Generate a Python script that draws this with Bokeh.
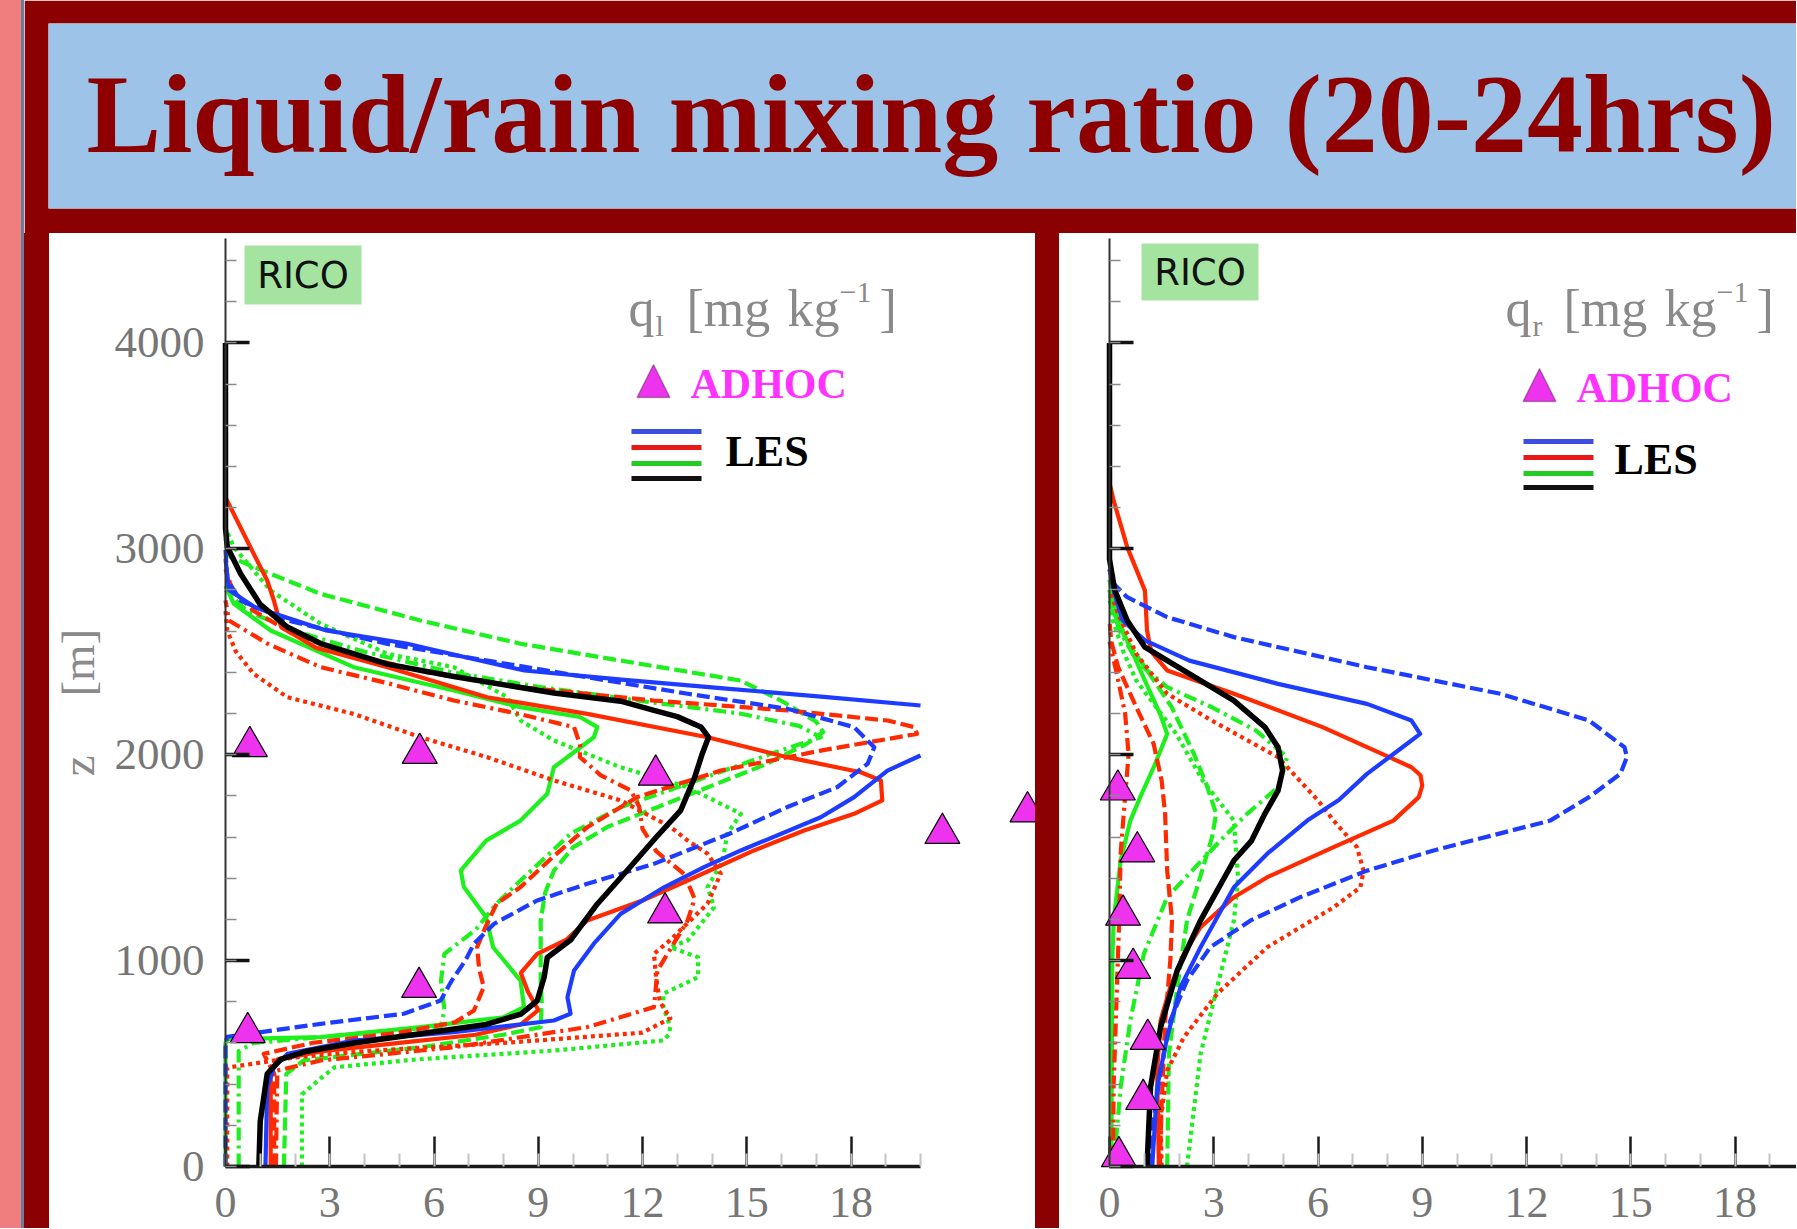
import math
from bokeh.plotting import figure
from bokeh.layouts import row, column
from bokeh.models import (Range1d, SingleIntervalTicker, Label, BoxAnnotation,
                          PolyAnnotation, CustomJSTickFormatter, Spacer)
from bokeh.embed import file_html
from bokeh.resources import INLINE

NaN = float("nan")

# ---------------- data ----------------
# Left panel: liquid water mixing ratio q_l [mg/kg] against height z [m]
ql_black_z = [0, 220, 450, 520, 560, 600, 645, 690, 740, 805, 920, 1015, 1100, 1275, 1440, 1600, 1730, 1890, 2005, 2085, 2135, 2185, 2215, 2260, 2300, 2380, 2440, 2540, 2620, 2730, 2880, 3010, 3100, 4000]
ql_black_x = [0.96, 1.0, 1.2, 1.58, 2.35, 3.7, 5.6, 7.5, 8.5, 8.97, 9.17, 9.26, 9.93, 10.7, 11.57, 12.4, 13.1, 13.5, 13.72, 13.9, 13.68, 13.0, 12.33, 11.37, 9.45, 6.57, 4.66, 2.74, 1.78, 1.0, 0.43, 0.05, 0.0, 0.0]

ql_blue_solid_z = [0, 385, 480, 547, 612, 652, 709, 742, 822, 952, 1082, 1227, 1356, 1454, 1535, 1696, 1794, 1923, 1996, NaN, 2239, 2280, 2320, 2365, 2409, 2470, 2540, 2603, 2716, 2800, 2950]
ql_blue_solid_x = [1.15, 1.2, 1.39, 1.78, 3.69, 6.57, 9.45, 9.93, 9.84, 10.03, 10.6, 11.37, 12.62, 13.77, 14.83, 17.13, 18.09, 19.05, 20.0, NaN, 20.0, 17.3, 14.5, 11.4, 8.6, 7.0, 5.2, 2.9, 0.85, 0.1, 0.0]

ql_blue_dashed_z = [0, 600, 630, 693, 742, 806, 900, 1000, 1082, 1179, 1292, 1373, 1470, 1616, 1746, 1842, 1956, 2036, 2134, 2223, 2296, 2376, 2457, 2538, 2652, 2749, 2850, 3000]
ql_blue_dashed_x = [0.0, 0.0, 0.05, 2.74, 5.13, 6.19, 6.5, 6.9, 7.15, 7.73, 8.97, 10.41, 12.33, 14.5, 16.17, 17.6, 18.48, 18.67, 18.09, 16.17, 13.3, 10.41, 7.53, 4.66, 1.78, 0.43, 0.05, 0.0]

ql_red_solid_z = [0, 450, 520, 560, 600, 640, 690, 760, 850, 940, 1033, 1100, 1195, 1292, 1389, 1535, 1632, 1713, 1778, 1875, 1915, 1988, 2085, 2198, 2279, 2425, 2520, 2620, 2750, 2846, 3040, 3250, 3300]
ql_red_solid_x = [1.3, 1.3, 1.5, 2.8, 5.0, 7.2, 8.5, 9.0, 8.7, 8.5, 8.97, 9.8, 10.41, 12.0, 13.3, 15.21, 16.65, 18.09, 18.9, 18.86, 18.28, 16.17, 13.87, 10.41, 7.53, 4.66, 2.6, 1.6, 1.39, 1.2, 0.62, 0.0, 0.0]

ql_red_dashed_z = [0, 450, 547, 600, 650, 700, 758, 871, 960, 1065, 1170, 1276, 1357, 1500, 1648, 1794, 1923, 2020, 2101, 2134, 2166, 2215, 2263, 2328, 2400, 2480, 2580, 2700, 2800, 2900]
ql_red_dashed_x = [1.4, 1.4, 1.1, 2.5, 5.0, 6.6, 7.15, 7.43, 7.3, 7.24, 7.5, 7.8, 8.49, 9.4, 10.41, 11.85, 14.25, 17.13, 19.9, 19.82, 19.05, 16.17, 12.33, 8.49, 5.8, 3.8, 2.0, 0.8, 0.2, 0.0]

ql_red_dashdot_z = [0, 466, 515, 579, 677, 774, 952, 1195, 1300, 1420, 1530, 1640, 1750, 1827, 1900, 1988, 2050, 2134, 2200, 2263, 2350, 2425, 2540, 2652, 2750]
ql_red_dashdot_x = [1.45, 1.49, 2.74, 6.57, 10.41, 12.33, 12.43, 13.3, 13.5, 13.2, 12.4, 12.0, 11.9, 11.66, 10.8, 10.2, 10.2, 10.03, 8.4, 6.57, 4.6, 2.74, 1.2, 0.1, 0.0]

ql_red_dotted_z = [0, 480, 530, 560, 600, 650, 720, 800, 903, 1033, 1100, 1276, 1422, 1519, 1583, 1650, 1778, 1875, 1988, 2085, 2198, 2279, 2393, 2500, 2603, 2700]
ql_red_dotted_x = [0.05, 0.05, 2.0, 4.0, 8.0, 12.0, 12.8, 12.5, 12.4, 12.33, 12.8, 13.87, 14.25, 13.87, 13.3, 12.8, 11.37, 9.45, 7.53, 5.61, 3.69, 1.78, 0.81, 0.3, 0.05, 0.0]

ql_green_solid_z = [0, 600, 618, 628, 677, 725, 774, 903, 1065, 1211, 1357, 1437, 1583, 1680, 1810, 1939, 2085, 2134, 2183, 2231, 2312, 2425, 2603, 2733, 2820]
ql_green_solid_x = [0.0, 0.0, 0.05, 2.74, 5.61, 8.01, 8.59, 8.49, 7.7, 7.5, 6.86, 6.77, 7.5, 8.49, 9.26, 9.45, 10.6, 10.7, 10.2, 8.49, 6.57, 3.69, 1.3, 0.24, 0.0]

ql_green_dashed_z = [0, 450, 515, 579, 640, 677, 800, 900, 1033, 1195, 1330, 1437, 1550, 1650, 1750, 1850, 1950, 2050, 2110, 2160, 2263, 2360, 2457, 2539, 2652, 2781, 2878, 2960, 3050]
ql_green_dashed_x = [1.68, 1.75, 2.25, 5.61, 8.0, 9.07, 9.1, 9.07, 9.07, 9.07, 9.2, 9.45, 10.0, 11.0, 12.5, 14.0, 15.5, 16.7, 17.2, 17.0, 15.98, 14.83, 11.37, 8.49, 5.61, 2.74, 1.3, 0.14, 0.0]

ql_green_dashdot_z = [0, 560, 600, 640, 680, 760, 900, 1033, 1150, 1276, 1389, 1500, 1616, 1745, 1859, 2004, 2085, 2140, 2200, 2260, 2330, 2400, 2500, 2600, 2700, 2800]
ql_green_dashdot_x = [0.38, 0.38, 0.8, 3.5, 6.2, 6.3, 6.2, 6.3, 7.2, 7.8, 8.49, 9.2, 9.93, 11.37, 13.3, 15.69, 17.13, 16.5, 14.8, 12.0, 9.0, 6.5, 4.0, 2.0, 0.6, 0.0]

ql_green_dotted_z = [0, 350, 434, 482, 520, 563, 612, 640, 677, 774, 839, 919, 960, 1016, 1065, 1098, 1259, 1357, 1480, 1616, 1713, 1842, 1939, 2069, 2166, 2279, 2425, 2490, 2636, 2797, 3008, 3100]
ql_green_dotted_x = [2.2, 2.2, 2.78, 3.14, 5.5, 9.45, 12.6, 12.75, 12.8, 12.6, 12.6, 13.6, 13.6, 13.6, 12.8, 13.3, 14.06, 13.87, 14.3, 14.44, 14.83, 13.3, 11.37, 9.45, 8.49, 8.11, 6.57, 4.66, 2.74, 1.3, 0.24, 0.0]

ql_adhoc_z = [651, 870, 1232, 1618, 1723, 1901, 2007, 2040]
ql_adhoc_x = [0.64, 5.57, 12.65, 20.63, 23.08, 12.38, 5.59, 0.70]

# Right panel: rain water mixing ratio q_r [mg/kg] against height z [m]
qr_black_z = [0, 385, 677, 952, 1195, 1486, 1583, 1713, 1826, 1923, 2036, 2134, 2263, 2393, 2522, 2652, 2800, 2950, 4000]
qr_black_x = [1.08, 1.18, 1.47, 1.95, 2.62, 3.58, 4.09, 4.47, 4.85, 4.98, 4.85, 4.47, 3.58, 2.3, 1.02, 0.51, 0.15, 0.0, 0.0]

qr_blue_solid_z = [0, 385, 628, 871, 1065, 1356, 1519, 1680, 1780, 1907, 2036, 2101, 2166, 2247, 2344, 2457, 2555, 2652, 2797, 2900]
qr_blue_solid_x = [1.23, 1.37, 1.66, 2.04, 2.62, 3.58, 4.54, 5.69, 6.6, 7.41, 8.43, 8.94, 8.69, 7.41, 4.85, 2.3, 1.02, 0.38, 0.12, 0.0]

qr_blue_dashed_z = [0, 223, 466, 709, 903, 1065, 1195, 1308, 1437, 1535, 1680, 1794, 1907, 1988, 2036, 2166, 2296, 2425, 2571, 2668, 2765, 2830, 2900]
qr_blue_dashed_x = [1.18, 1.27, 1.47, 1.75, 2.23, 2.9, 4.06, 5.49, 7.41, 9.33, 12.68, 13.8, 14.7, 14.89, 14.82, 13.8, 11.25, 7.41, 3.58, 1.66, 0.51, 0.12, 0.0]

qr_red_solid_z = [0, 466, 709, 871, 1033, 1162, 1308, 1405, 1551, 1680, 1794, 1850, 1900, 1939, 1988, 2134, 2296, 2409, 2500, 2603, 2797, 3008, 3234, 3320]
qr_red_solid_x = [1.42, 1.37, 1.47, 1.75, 2.14, 2.62, 3.58, 4.54, 6.45, 8.17, 8.9, 9.0, 8.95, 8.69, 8.05, 6.13, 3.58, 1.66, 1.2, 1.08, 1.02, 0.51, 0.12, 0.0]

qr_red_dashed_z = [0, 300, 700, 1000, 1195, 1437, 1713, 1875, 2053, 2231, 2425, 2550, 2650]
qr_red_dashed_x = [1.45, 1.5, 1.6, 1.75, 1.8, 1.66, 1.6, 1.5, 1.27, 0.77, 0.25, 0.05, 0.0]

qr_red_dashdot_z = [0, 400, 800, 1200, 1519, 1800, 2000, 2200, 2400, 2550]
qr_red_dashdot_x = [0.1, 0.12, 0.2, 0.28, 0.32, 0.45, 0.55, 0.45, 0.2, 0.0]

qr_red_dotted_z = [0, 223, 466, 628, 839, 1065, 1259, 1356, 1437, 1551, 1680, 1778, 1988, 2166, 2296, 2490, 2684, 2800]
qr_red_dotted_x = [1.5, 1.47, 1.66, 2.14, 3.1, 4.54, 6.45, 7.22, 7.31, 7.12, 6.45, 6.0, 4.85, 2.94, 1.66, 0.77, 0.25, 0.0]

qr_green_solid_z = [0, 1000, 1195, 1486, 1680, 1800, 1950, 2101, 2200, 2360, 2500, 2603, 2750, 2850]
qr_green_solid_x = [0.05, 0.08, 0.12, 0.32, 0.6, 0.9, 1.3, 1.66, 1.45, 1.02, 0.65, 0.38, 0.12, 0.0]

qr_green_dashed_z = [0, 547, 871, 1195, 1400, 1599, 1713, 1850, 2004, 2231, 2425, 2550, 2700, 2800]
qr_green_dashed_x = [1.66, 1.71, 1.95, 2.23, 2.6, 2.95, 3.07, 2.8, 2.43, 1.79, 1.02, 0.5, 0.1, 0.0]

qr_green_dashdot_z = [0, 385, 709, 1033, 1308, 1583, 1713, 1842, 1988, 2117, 2231, 2328, 2450, 2600, 2750]
qr_green_dashdot_x = [0.12, 0.32, 0.6, 0.99, 1.66, 3.19, 3.96, 4.85, 5.11, 4.22, 2.94, 1.66, 0.8, 0.3, 0.0]

qr_green_dotted_z = [0, 547, 871, 1195, 1400, 1680, 1875, 2101, 2360, 2500, 2650, 2800]
qr_green_dotted_x = [2.23, 2.62, 3.1, 3.58, 3.7, 3.58, 2.68, 1.92, 0.77, 0.4, 0.1, 0.0]

qr_adhoc_z = [48, 326, 618, 963, 1221, 1529, 1829]
qr_adhoc_x = [0.27, 0.97, 1.10, 0.68, 0.39, 0.80, 0.24]

x_major_ticks_step = 3
z_major_ticks_step = 1000

TITLE = "Liquid/rain mixing ratio (20-24hrs)"

# ---------------- styles ----------------
DARK_RED = "#8B0000"
BANNER = "#9DC4E8"
PINK = "#F07E7E"
COLORS = {"blue": "#1E3CFF", "red": "#FF2A00", "green": "#1EF01E", "black": "#000000"}
DASH = {"solid": "solid", "dashed": "13 5", "dashdot": "13 5 3 5", "dotted": "4 4"}
TICK_GRAY = "#767676"
LABEL_GRAY = "#8A8A8A"
MAGENTA = "#FF33FF"
TRI_FILL = "#EE33EE"

left_series = [
    ("green", "dotted", ql_green_dotted_x, ql_green_dotted_z),
    ("green", "dashdot", ql_green_dashdot_x, ql_green_dashdot_z),
    ("green", "dashed", ql_green_dashed_x, ql_green_dashed_z),
    ("green", "solid", ql_green_solid_x, ql_green_solid_z),
    ("red", "dotted", ql_red_dotted_x, ql_red_dotted_z),
    ("red", "dashdot", ql_red_dashdot_x, ql_red_dashdot_z),
    ("red", "dashed", ql_red_dashed_x, ql_red_dashed_z),
    ("red", "solid", ql_red_solid_x, ql_red_solid_z),
    ("blue", "dashed", ql_blue_dashed_x, ql_blue_dashed_z),
    ("blue", "solid", ql_blue_solid_x, ql_blue_solid_z),
    ("black", "solid", ql_black_x, ql_black_z),
]
right_series = [
    ("green", "dotted", qr_green_dotted_x, qr_green_dotted_z),
    ("green", "dashdot", qr_green_dashdot_x, qr_green_dashdot_z),
    ("green", "dashed", qr_green_dashed_x, qr_green_dashed_z),
    ("green", "solid", qr_green_solid_x, qr_green_solid_z),
    ("red", "dotted", qr_red_dotted_x, qr_red_dotted_z),
    ("red", "dashdot", qr_red_dashdot_x, qr_red_dashdot_z),
    ("red", "dashed", qr_red_dashed_x, qr_red_dashed_z),
    ("red", "solid", qr_red_solid_x, qr_red_solid_z),
    ("blue", "dashed", qr_blue_dashed_x, qr_blue_dashed_z),
    ("blue", "solid", qr_blue_solid_x, qr_blue_solid_z),
    ("black", "solid", qr_black_x, qr_black_z),
]

# ---------------- geometry (page pixels) ----------------
PXX = 34.75        # px per mg/kg
PXZ = 0.2059       # px per metre
PANEL_TOP = 233    # page y of the white panels' top edge
PANEL_H = 995
Z0_PAGE = 1166     # page y of z = 0
ZAXIS_TOP_PAGE = 238
MID = 0.36         # baseline -> text middle offset (fraction of font size)


def make_panel(fig_left_page, width, frame_left_page, series, adhoc_x, adhoc_z,
               show_ylabels, rico_box, qlabel, legend):
    off = frame_left_page - fig_left_page
    z_top = (Z0_PAGE - PANEL_TOP) / PXZ
    z_bot = -(PANEL_TOP + PANEL_H - Z0_PAGE) / PXZ
    p = figure(width=width, height=PANEL_H, output_backend="svg", toolbar_location=None,
               x_range=Range1d(-off / PXX, (width - off) / PXX),
               y_range=Range1d(z_bot, z_top),
               min_border_left=0, min_border_right=0,
               min_border_top=0, min_border_bottom=0)
    p.outline_line_color = None
    p.border_fill_color = "white"
    p.background_fill_color = "white"
    p.xgrid.visible = False
    p.ygrid.visible = False

    def X(px):
        return (px - frame_left_page) / PXX

    def Z(py):
        return (Z0_PAGE - py) / PXZ

    xa = p.xaxis[0]
    xa.fixed_location = 0
    xa.bounds = (0, 20)
    xa.ticker = SingleIntervalTicker(interval=x_major_ticks_step, num_minor_ticks=3)
    xa.axis_line_color = "#1a1a1a"
    xa.axis_line_width = 3.5
    xa.major_tick_in = 30
    xa.major_tick_out = 0
    xa.major_tick_line_color = "#1a1a1a"
    xa.major_tick_line_width = 2.5
    xa.minor_tick_in = 13
    xa.minor_tick_out = 0
    xa.minor_tick_line_color = "#C4C4C4"
    xa.minor_tick_line_width = 2
    xa.major_label_standoff = 21
    xa.major_label_text_font = "Liberation Serif"
    xa.major_label_text_font_size = "44px"
    xa.major_label_text_color = TICK_GRAY

    ya = p.yaxis[0]
    ya.fixed_location = 0
    ya.bounds = (0, (Z0_PAGE - ZAXIS_TOP_PAGE) / PXZ)
    ya.ticker = SingleIntervalTicker(interval=z_major_ticks_step, num_minor_ticks=5)
    ya.axis_line_color = "#333333"
    ya.axis_line_width = 2
    ya.major_tick_in = 24
    ya.major_tick_out = 0
    ya.major_tick_line_color = "#111111"
    ya.major_tick_line_width = 3.5
    ya.minor_tick_in = 11
    ya.minor_tick_out = 0
    ya.minor_tick_line_color = "#8A8A8A"
    ya.minor_tick_line_width = 1.5
    ya.major_label_text_font = "Liberation Serif"
    ya.major_label_text_font_size = "45px"
    ya.major_label_text_color = TICK_GRAY
    ya.major_label_standoff = 21
    if show_ylabels:
        ya.axis_label = "z\u00a0\u00a0\u00a0\u00a0\u00a0[m]"
        ya.axis_label_text_font = "Liberation Serif"
        ya.axis_label_text_font_size = "47px"
        ya.axis_label_text_font_style = "normal"
        ya.axis_label_text_color = LABEL_GRAY
        ya.axis_label_standoff = 8
    else:
        ya.formatter = CustomJSTickFormatter(code="return ''")

    for color, dash, xs, zs in series:
        p.line(xs, zs, line_color=COLORS[color], line_dash=DASH[dash],
               line_width=5.5 if color == "black" else 4.2, line_join="round")

    p.scatter(adhoc_x, adhoc_z, marker="triangle", size=35, fill_color=TRI_FILL,
              line_color="black", line_width=1.2)

    # RICO tag
    l, r, t, b = rico_box
    p.add_layout(BoxAnnotation(left=X(l), right=X(r), top=Z(t), bottom=Z(b),
                               fill_color="#A4E4A0", fill_alpha=1.0, line_color=None))
    p.add_layout(Label(x=X((l + r) / 2), y=Z((t + b) / 2), text="RICO",
                       text_font="DejaVu Sans", text_font_size="37px", text_color="#111111",
                       text_align="center", text_baseline="middle"))

    # quantity label q_l / q_r [mg kg^-1]  (positions are baselines)
    qx, base, sub = qlabel
    pieces = [
        ("q", qx, base, 52),
        (sub, qx + 27, base + 9, 30),
        ("[mg", qx + 58, base, 52),
        ("kg", qx + 159, base, 52),
        ("\u22121", qx + 211, base - 24, 30),
        ("]", qx + 251, base, 52),
    ]
    for txt, px, py, fs in pieces:
        p.add_layout(Label(x=X(px), y=Z(py - MID * fs), text=txt, text_font="Liberation Serif",
                           text_font_size=f"{fs}px", text_color=LABEL_GRAY,
                           text_align="left", text_baseline="middle"))

    # legend
    tri_cx, tri_cy, adhoc_x0, lines_x0, lines_x1, line_ys, les_x0, les_cy = legend
    p.add_layout(PolyAnnotation(xs=[X(tri_cx - 16.5), X(tri_cx + 16.5), X(tri_cx)],
                                ys=[Z(tri_cy + 16), Z(tri_cy + 16), Z(tri_cy - 17)],
                                fill_color=TRI_FILL, fill_alpha=1.0,
                                line_color="black", line_width=1.5))
    p.add_layout(Label(x=X(adhoc_x0), y=Z(tri_cy + 2), text="ADHOC",
                       text_font="Liberation Serif", text_font_style="bold",
                       text_font_size="42px", text_color=MAGENTA,
                       text_align="left", text_baseline="middle"))
    for c, ly in zip(["#3A4FE0", "#E81818", "#22CC22", "#111111"], line_ys):
        p.add_layout(BoxAnnotation(left=X(lines_x0), right=X(lines_x1),
                                   top=Z(ly - 2.6), bottom=Z(ly + 2.6),
                                   fill_color=c, fill_alpha=1.0, line_color=None))
    p.add_layout(Label(x=X(les_x0), y=Z(les_cy), text="LES",
                       text_font="Liberation Serif", text_font_style="bold",
                       text_font_size="44px", text_color="#000000",
                       text_align="left", text_baseline="middle"))
    return p


left = make_panel(49, 986, 225, left_series, ql_adhoc_x, ql_adhoc_z, True,
                  (244, 361, 245, 304), (628, 327, "l"),
                  (653, 381, 690, 631, 701, [431, 447, 463, 478], 725, 451))
right = make_panel(1059, 737, 1109, right_series, qr_adhoc_x, qr_adhoc_z, False,
                   (1141, 1258, 243, 300), (1505, 327, "r"),
                   (1539, 385, 1576, 1523, 1593, [441, 457, 473, 487], 1614, 459))

# ---------------- banner ----------------
banner = figure(width=1772, height=233, output_backend="svg", toolbar_location=None,
                x_range=Range1d(0, 1748), y_range=Range1d(0, 185),
                x_axis_type=None, y_axis_type=None,
                min_border_left=24, min_border_right=0, min_border_top=23, min_border_bottom=25)
banner.outline_line_color = None
banner.border_fill_color = DARK_RED
banner.background_fill_color = BANNER
# baseline at page y 151 -> text middle about 38 px above it
banner.add_layout(Label(x=38, y=208 - (151 - 38), text=TITLE, text_font="Liberation Serif",
                        text_font_style="bold", text_font_size="112px",
                        text_color="#8E0000", text_align="left", text_baseline="middle"))

pink = Spacer(width=21, height=1228, styles={"background-color": PINK})
seam = Spacer(width=3, height=1228, styles={"background-color": "#66809E"})
red_left = Spacer(width=25, height=PANEL_H, styles={"background-color": DARK_RED})
red_mid = Spacer(width=24, height=PANEL_H, styles={"background-color": DARK_RED})

layout = row(pink, seam, column(banner, row(red_left, left, red_mid, right)))

open("out.html", "w").write(file_html(layout, INLINE, title="Liquid/rain mixing ratio"))
